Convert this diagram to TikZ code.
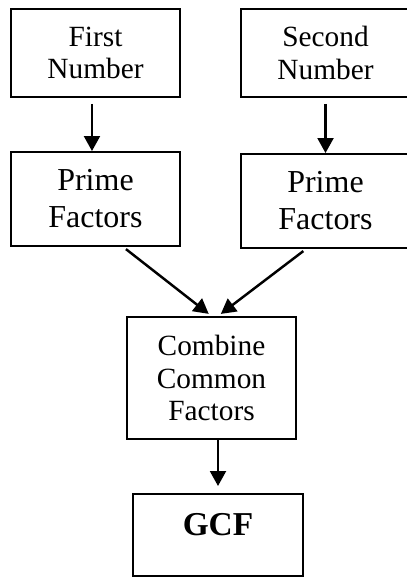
\documentclass[tikz,border=0pt]{standalone}
\usepackage{fontspec}
\setmainfont{Liberation Serif}
\usepackage{tikz}
\usetikzlibrary{arrows.meta,positioning}

\begin{document}
\begin{tikzpicture}[
    x=0.02cm, y=-0.02cm,
    block/.style={draw, line width=1.1pt, align=center, minimum width=3.38cm, inner sep=0pt},
    numtext/.style={font=\fontsize{16.7pt}{18.7pt}\selectfont},
    primetext/.style={font=\fontsize{18.2pt}{21pt}\selectfont},
    arrow/.style={-{Triangle[length=8.5pt,width=9pt]}, line width=1.4pt}
]
\useasboundingbox (0,0) rectangle (406,577);
\node[block, numtext, minimum height=1.76cm] (first) at (95.5,53) {First\\Number};
\node[block, numtext, minimum height=1.76cm] (second) at (325.5,53) {Second\\Number};
\node[block, primetext, minimum height=1.88cm] (primeL) at (95.5,199) {Prime\\Factors};
\node[block, primetext, minimum height=1.88cm] (primeR) at (325.5,201) {Prime\\Factors};
\node[block, numtext, minimum height=2.44cm] (combine) at (211.5,378) {Combine\\Common\\Factors};
\node[block, minimum width=3.4cm, minimum height=1.64cm, text height=13pt, text depth=13pt,
      font=\fontsize{19pt}{22pt}\selectfont\bfseries] (gcf) at (218,535) {GCF};
\draw[arrow, shorten <=3.4pt] ([xshift=-2pt]first.south) -- ([xshift=-2pt]primeL.north);
\draw[arrow, shorten <=3.4pt] (second) -- (primeR);
\draw[arrow, shorten <=2pt, shorten >=2pt] (primeL.-60) -- (combine.north);
\draw[arrow, shorten <=2pt, shorten >=2pt] (primeR.-112) -- (combine.84);
\draw[arrow, shorten >=4pt] (gcf.north |- combine.south) -- (gcf.north);
\end{tikzpicture}
\end{document}
